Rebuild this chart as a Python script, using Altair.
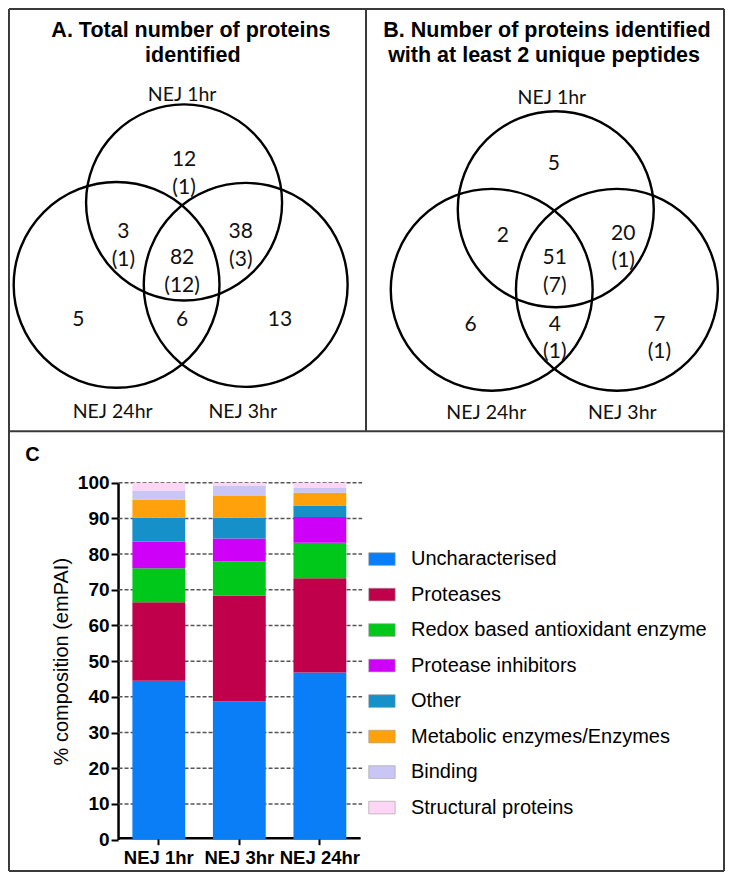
import altair as alt
import pandas as pd

# ---------------- canvas ----------------
W, H = 717, 865            # chart size (page has 8px margin)
RW, RH = 733, 881          # reference coordinate space
SX, SY = W / RW, H / RH
S = (SX + SY) / 2

# ---------------- data ----------------
groups = ["NEJ 1hr", "NEJ 3hr", "NEJ 24hr"]
categories = [
    "Uncharacterised",
    "Proteases",
    "Redox based antioxidant enzyme",
    "Protease inhibitors",
    "Other",
    "Metabolic enzymes/Enzymes",
    "Binding",
    "Structural proteins",
]
colors = ["#0A7EF7", "#C0004B", "#00C81A", "#CF00F7", "#1590C8", "#FFA10A", "#C9C6F5", "#FCD6F4"]
nej_1hr = [44.5, 22.0, 9.5, 7.5, 6.7, 5.1, 2.5, 2.2]
nej_3hr = [38.7, 29.6, 9.7, 6.4, 5.8, 6.1, 2.9, 0.8]
nej_24hr = [46.8, 26.4, 10.0, 7.2, 3.2, 3.6, 1.3, 1.5]
y_ticks = [0, 10, 20, 30, 40, 50, 60, 70, 80, 90, 100]
y_title = "% composition (emPAI)"

venn_sets = ["NEJ 1hr", "NEJ 24hr", "NEJ 3hr"]
# regions: 1hr only, 1hr&24hr, all, 1hr&3hr, 24hr only, 24hr&3hr, 3hr only
venn_a_counts = [12, 3, 82, 38, 5, 6, 13]
venn_a_sub = [1, 1, 12, 3, None, None, None]
venn_b_counts = [5, 2, 51, 20, 6, 4, 7]
venn_b_sub = [None, None, 7, 1, None, 1, 1]
title_a = ["A. Total number of proteins", "identified"]
title_b = ["B. Number of proteins identified", "with at least 2 unique peptides"]
panel_c = "C"

# ---------------- layout (reference pixels) ----------------
layout_a = dict(
    titles=[(187, 23), (189, 49)],
    sets=[(178, 89), (107, 411), (240, 411)],
    circles=[(180, 198, 100), (111, 282, 105), (243, 282, 104)],
    regions=[(180, 155, 183), (118, 228, 257), (178, 255, 283), (238, 228, 257),
             (72, 318, None), (178, 318, None), (278, 318, None)],
)
layout_b = dict(
    titles=[(551, 23), (548, 49)],
    sets=[(556, 92), (489, 413), (628, 413)],
    circles=[(560, 205, 100), (494.5, 287, 103), (622.5, 287, 103)],
    regions=[(558, 159, None), (506, 232, None), (559, 255, 283), (629, 230, 258),
             (473, 323, None), (559, 323, 350), (666, 323, 350)],
)
borders = [
    (1, 1, 732, 1), (1, 879, 732, 879), (1, 1, 1, 879), (732, 1, 732, 879),
    (366, 1, 366, 431), (1, 431, 732, 431),
]

# ---------------- frame tables ----------------
title_rows, set_rows, count_rows, circle_rows = [], [], [], []
for titles, sets, counts, subs, lay in [
    (title_a, venn_sets, venn_a_counts, venn_a_sub, layout_a),
    (title_b, venn_sets, venn_b_counts, venn_b_sub, layout_b),
]:
    for t, (x, y) in zip(titles, lay["titles"]):
        title_rows.append(dict(x=x, y=y, text=t))
    for t, (x, y) in zip(sets, lay["sets"]):
        set_rows.append(dict(x=x, y=y, text=t))
    for (cx, cy, r) in lay["circles"]:
        circle_rows.append(dict(x=cx, y=cy, size=(2 * r * S) ** 2))
    for c, sub, (x, y1, y2) in zip(counts, subs, lay["regions"]):
        count_rows.append(dict(x=x, y=y1, text=str(c)))
        if sub is not None:
            count_rows.append(dict(x=x, y=y2, text=f"({sub})"))
c_rows = [dict(x=25, y=455, text=panel_c)]

border_df = pd.DataFrame(borders, columns=["x", "y", "x2", "y2"])

xs = alt.Scale(domain=[0, RW], range=[0, W], nice=False, zero=False)
ys = alt.Scale(domain=[0, RH], range=[0, H], nice=False, zero=False)
X = alt.X("x:Q", scale=xs, axis=None)
Y = alt.Y("y:Q", scale=ys, axis=None)

border_layer = alt.Chart(border_df).mark_rule(color="#3a3a3a", strokeWidth=2).encode(
    x=X, y=Y, x2="x2:Q", y2="y2:Q")
circle_layer = alt.Chart(pd.DataFrame(circle_rows)).mark_point(
    shape="circle", filled=False, color="black", strokeWidth=2.4, opacity=1).encode(
    x=X, y=Y, size=alt.Size("size:Q", scale=None, legend=None))
title_layer = alt.Chart(pd.DataFrame(title_rows)).mark_text(
    font="Liberation Sans", fontWeight="bold", fontSize=21.5, color="black",
    align="center", baseline="middle").encode(x=X, y=Y, text="text:N")
c_layer = alt.Chart(pd.DataFrame(c_rows)).mark_text(
    font="Liberation Sans", fontWeight="bold", fontSize=20, color="black",
    align="center", baseline="middle").encode(x=X, y=Y, text="text:N")
set_layer = alt.Chart(pd.DataFrame(set_rows)).mark_text(
    font="Lato", fontSize=19.5, color="#111", align="center", baseline="middle").encode(
    x=X, y=Y, text="text:N")
count_layer = alt.Chart(pd.DataFrame(count_rows)).mark_text(
    font="Lato", fontSize=21, color="#111", align="center", baseline="middle").encode(
    x=X, y=Y, text="text:N")

frame = alt.layer(border_layer, circle_layer, title_layer, c_layer, set_layer, count_layer)

# ---------------- stacked bar chart ----------------
bar_rows = []
for g, vals in zip(groups, [nej_1hr, nej_3hr, nej_24hr]):
    for i, (c, v) in enumerate(zip(categories, vals)):
        bar_rows.append(dict(group=g, category=c, value=v, order=i))
bar_df = pd.DataFrame(bar_rows)

px = lambda v: v * SX
py = lambda v: v * SY
y_range = [py(847), py(483.5)]
x_range = [px(113), px(360)]

y_axis = alt.Axis(
    orient="left", offset=-px(112.5), values=y_ticks, grid=False,
    domainColor="black", domainWidth=2.5, tickColor="black", tickWidth=2, tickSize=7,
    labelFont="Liberation Sans", labelFontWeight="bold", labelFontSize=19, labelColor="black",
    labelPadding=2, title=y_title, titleFont="Liberation Sans", titleFontSize=20,
    titleFontWeight="normal", titleColor="black", titlePadding=6)
y_scale = alt.Scale(domain=[0, 100], range=y_range, nice=False)

grid_df = pd.DataFrame({"tick": y_ticks[1:]})
grid = alt.Chart(grid_df).mark_rule(color="#555", strokeWidth=1.5, strokeDash=[4, 2]).encode(
    y=alt.Y("tick:Q", scale=y_scale, axis=y_axis),
    x=alt.value(px(113)), x2=alt.value(px(362)))

bars = alt.Chart(bar_df).mark_bar().encode(
    x=alt.X("group:N", sort=groups,
            scale=alt.Scale(domain=groups, range=x_range, paddingInner=0.344, paddingOuter=0.172),
            axis=alt.Axis(orient="bottom", offset=py(845) - H, title=None, labelAngle=0,
                          domainColor="black", domainWidth=2.5, tickColor="black", tickWidth=2,
                          tickSize=7, labelFont="Liberation Sans", labelFontWeight="bold",
                          labelFontSize=18.5, labelColor="black", labelPadding=4)),
    y=alt.Y("value:Q", stack="zero", scale=y_scale, axis=y_axis),
    color=alt.Color("category:N", sort=categories,
                    scale=alt.Scale(domain=categories, range=colors),
                    legend=alt.Legend(
                        orient="none", legendX=px(368), legendY=py(547), title=None,
                        symbolType="M-1,-0.48H1V0.48H-1Z", symbolSize=(27 * SX) ** 2,
                        symbolStrokeColor="#9a9a9a", symbolStrokeWidth=0.6,
                        labelFont="Liberation Sans", labelFontSize=20, labelColor="black",
                        labelLimit=400, labelOffset=15, rowPadding=11.5, padding=0)),
    order=alt.Order("order:Q", sort="ascending"),
)

barchart = alt.layer(grid, bars)

chart = alt.layer(frame, barchart).resolve_scale(
    x="independent", y="independent"
).properties(
    width=W, height=H, padding=0, autosize="none"
).configure_view(stroke=None)

chart.save("out.html", embed_options={"renderer": "svg", "actions": False})
